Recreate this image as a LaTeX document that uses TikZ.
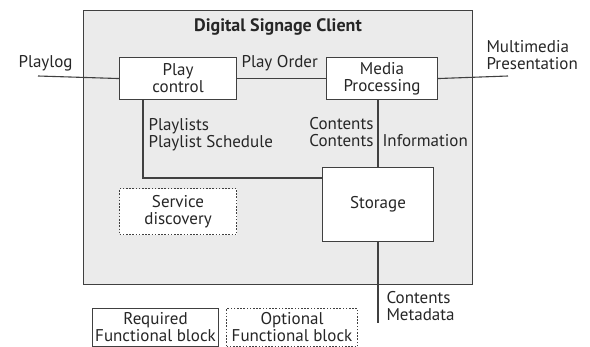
\documentclass[tikz,border=0pt]{standalone}
\usepackage{fontspec}
\setmainfont{PT Sans}
\begin{document}
\begin{tikzpicture}[x=1pt,y=-1pt,
  line width=1.1pt,
  every node/.style={font=\fontsize{17}{17}\selectfont, text=black!85, inner sep=0pt},
  block/.style={draw=black!75, fill=white, align=center},
  optblock/.style={draw=black!75, fill=white, align=center, dash pattern=on 1.6pt off 1.6pt},
  wire/.style={draw=black!75},
  lbl/.style={align=left}
]
\useasboundingbox (0,0) rectangle (590,347);
% client frame
\node[draw=black!75, fill=black!8, minimum width=389pt, minimum height=274pt, anchor=north west] (client) at (83,10) {};
\node[font=\bfseries\fontsize{18}{18}\selectfont] (title) at (278,27) {Digital Signage Client};
% functional blocks
\node[block, minimum width=117pt, minimum height=42pt, anchor=north west] (play) at (119,57) {Play\\control};
\node[block, minimum width=111pt, minimum height=42pt, anchor=north west] (media) at (326,57) {Media\\Processing};
\node[block, minimum width=111pt, minimum height=74pt, anchor=north west] (storage) at (322,167) {Storage};
\node[optblock, minimum width=117pt, minimum height=46pt, anchor=north west] (disc) at (119,188) {Service\\discovery};
% external ends
\coordinate (logend) at (38,76);
\coordinate (presend) at (508,76);
\coordinate (metaend) at (378,323);
\coordinate (plcorner) at (143,178);
% connectors
\draw[wire] (logend) -- (play.west);
\draw[wire] (play.east) -- (media.west);
\draw[wire] (media.east) -- (presend);
\draw[wire] (play.south -| plcorner) -- (plcorner) -- (storage.west |- plcorner);
\draw[wire] (media.south -| metaend) -- (storage.north -| metaend);
\draw[wire] (storage.south -| metaend) -- (metaend);
% labels
\node[anchor=base west] (logl) at (18,68) {Playlog};
\node[anchor=base west] (pol) at (241,68) {Play Order};
\node[lbl, anchor=north west] (presl) at (486,40) {Multimedia\\Presentation};
\node[lbl, anchor=north west] (pll) at (148,118) {Playlists\\Playlist Schedule};
\node[align=right, anchor=north east] (ccl) at (374,117) {Contents\\Contents};
\node[anchor=base west] (infol) at (382,147) {Information};
\node[lbl, anchor=north west] (metal) at (386,291) {Contents\\Metadata};
% legend
\node[block, minimum width=126pt, minimum height=38pt, anchor=north west] (req) at (92,308) {Required\\Functional block};
\node[optblock, minimum width=131pt, minimum height=38pt, anchor=north west] (opt) at (226,308) {Optional\\Functional block};
\end{tikzpicture}
\end{document}
